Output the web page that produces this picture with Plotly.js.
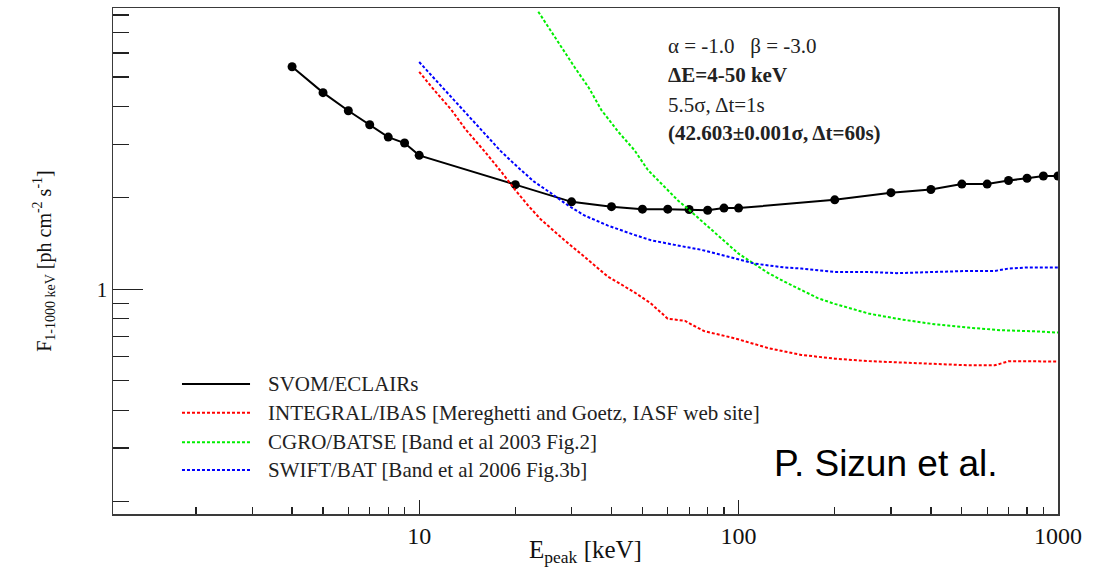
<!DOCTYPE html>
<html>
<head>
<meta charset="utf-8">
<script src="https://cdn.plot.ly/plotly-3.0.1.min.js"></script>
<style>
  html, body { margin: 0; padding: 0; background: #fff; }
  #plot { width: 1094px; height: 567px; }
</style>
</head>
<body>
<div id="plot"></div>
<script>
// Sensitivity (1-1000 keV photon flux) versus Epeak for several GRB instruments

const seriesNames = [
  "SVOM/ECLAIRs",
  "INTEGRAL/IBAS [Mereghetti and Goetz, IASF web site]",
  "CGRO/BATSE [Band et al 2003 Fig.2]",
  "SWIFT/BAT [Band et al 2006 Fig.3b]"
];

// SVOM/ECLAIRs
const eclairsE = [4, 5, 6, 7, 8, 9, 10, 20, 30, 40, 50, 60, 70, 80, 90, 100,
                  200, 300, 400, 500, 600, 700, 800, 900, 1000];
const eclairsF = [5.40, 4.44, 3.87, 3.48, 3.17, 3.03, 2.76, 2.21, 1.94, 1.87, 1.835, 1.835, 1.83, 1.82, 1.85, 1.85,
                  1.97, 2.08, 2.13, 2.22, 2.22, 2.28, 2.32, 2.36, 2.36];

// INTEGRAL/IBAS
const ibasE = [10, 11, 12.6, 14, 16, 18, 20, 22, 24, 28.5, 32.9, 39, 47, 53, 60, 68, 72, 78,
               97, 124, 157, 200, 255, 324, 411, 523, 634, 699, 848, 1000];
const ibasF = [5.2, 4.6, 3.9, 3.35, 2.85, 2.45, 2.12, 1.88, 1.70, 1.45, 1.28, 1.10, 0.98, 0.90, 0.80, 0.787, 0.761, 0.728,
               0.69, 0.64, 0.608, 0.591, 0.58, 0.575, 0.569, 0.562, 0.562, 0.579, 0.579, 0.578];

// CGRO/BATSE
const batseE = [23.6, 26, 28, 30.6, 34, 37.2, 42, 47.2, 52, 58.6, 64.6, 69.4, 75, 80, 86, 92.6, 100, 107,
                124, 139, 153, 177, 200, 226, 255, 324, 411, 523, 661, 848, 1000];
const batseF = [8.2, 7.0, 6.2, 5.40, 4.6, 3.89, 3.30, 2.87, 2.47, 2.17, 1.96, 1.84, 1.71, 1.61, 1.50, 1.40, 1.31, 1.25,
                1.13, 1.06, 1.01, 0.935, 0.895, 0.862, 0.832, 0.795, 0.767, 0.748, 0.733, 0.727, 0.72];

// SWIFT/BAT
const batE = [10, 12.6, 16, 18, 20.3, 22.9, 25.9, 29.2, 32.9, 39, 47.2, 53.2, 63, 76, 93, 112,
              139, 157, 200, 255, 313, 411, 523, 634, 699, 805, 1000];
const batF = [5.6, 4.30, 3.26, 2.85, 2.53, 2.26, 2.07, 1.89, 1.75, 1.62, 1.51, 1.45, 1.40, 1.35, 1.28, 1.215,
              1.18, 1.17, 1.14, 1.14, 1.13, 1.14, 1.149, 1.149, 1.17, 1.18, 1.18];

const xTickVals = [10, 100, 1000];
const xTickText = ["10", "100", "1000"];
const xMinorVals = [2, 3, 4, 5, 6, 7, 8, 9, 20, 30, 40, 50, 60, 70, 80, 90,
                    200, 300, 400, 500, 600, 700, 800, 900];
const yTickVals = [1];
const yTickText = ["1"];
const yMinorVals = [0.2, 0.3, 0.4, 0.5, 0.6, 0.7, 0.8, 0.9, 2, 3, 4, 5, 6, 7, 8];

const infoLines = [
  "α\u00A0=\u00A0-1.0\u00A0\u00A0\u00A0β\u00A0=\u00A0-3.0",
  "<b>ΔE=4-50 keV</b>",
  "5.5σ, Δt=1s",
  "<b>(42.603±0.001σ, Δt=60s)</b>"
];
const creditText = "P. Sizun et al.";

const serif = "Liberation Serif, Times New Roman, serif";
const dashStyle = "3px,2px";
const colors = ["#000000", "#ff0000", "#00ee00", "#0000ff"];

const traces = [
  { x: eclairsE, y: eclairsF, name: seriesNames[0], mode: "lines+markers",
    line: { color: colors[0], width: 2 },
    marker: { color: colors[0], size: 9, symbol: "circle" } },
  { x: ibasE, y: ibasF, name: seriesNames[1], mode: "lines",
    line: { color: colors[1], width: 2, dash: dashStyle } },
  { x: batseE, y: batseF, name: seriesNames[2], mode: "lines",
    line: { color: colors[2], width: 2, dash: dashStyle } },
  { x: batE, y: batF, name: seriesNames[3], mode: "lines",
    line: { color: colors[3], width: 2, dash: dashStyle } }
].map(t => Object.assign(t, { type: "scatter", showlegend: false, hoverinfo: "skip" }));

// Hand-built key in the lower-left corner of the frame
const legendRowsY = [0.257, 0.200, 0.142, 0.087];
const shapes = [];
const annotations = [];
seriesNames.forEach((name, i) => {
  shapes.push({
    type: "line", xref: "paper", yref: "paper",
    x0: 0.073, x1: 0.145, y0: legendRowsY[i], y1: legendRowsY[i],
    line: { color: colors[i], width: 2, dash: i === 0 ? "solid" : dashStyle }
  });
  annotations.push({
    xref: "paper", yref: "paper", x: 0.162, y: legendRowsY[i],
    xanchor: "left", yanchor: "middle", showarrow: false,
    text: name, font: { family: serif, size: 21, color: "#222" }
  });
});

const infoY = [0.925, 0.868, 0.808, 0.753];
infoLines.forEach((txt, i) => {
  annotations.push({
    xref: "paper", yref: "paper", x: 0.585, y: infoY[i],
    xanchor: "left", yanchor: "middle", showarrow: false,
    text: txt, font: { family: serif, size: 21, color: "#222" }
  });
});

annotations.push({
  xref: "paper", yref: "paper", x: 0.697, y: 0.10,
  xanchor: "left", yanchor: "middle", showarrow: false,
  text: creditText, font: { family: "Liberation Sans, Arial, sans-serif", size: 37, color: "#000" }
});

const layout = {
  width: 1094, height: 567,
  margin: { l: 113, r: 36, t: 8, b: 53 },
  paper_bgcolor: "#ffffff", plot_bgcolor: "#ffffff",
  showlegend: false,
  xaxis: {
    type: "log", range: [Math.log10(1.1), 3.0],
    showline: true, mirror: true, linecolor: "#3a3a3a", linewidth: 1.5,
    showgrid: false, zeroline: false,
    ticks: "inside", ticklen: 14, tickwidth: 1.2, tickcolor: "#222",
    tickmode: "array", tickvals: xTickVals, ticktext: xTickText,
    tickfont: { family: serif, size: 24, color: "#111" },
    minor: { tickmode: "array", tickvals: xMinorVals, ticks: "inside", ticklen: 7, tickwidth: 1.2, tickcolor: "#222", showgrid: false },
    title: { text: "E<sub>peak</sub> [keV]", font: { family: serif, size: 25, color: "#111" }, standoff: 2 }
  },
  yaxis: {
    type: "log", range: [Math.log10(0.182), 0.926],
    showline: true, mirror: true, linecolor: "#3a3a3a", linewidth: 1.5,
    showgrid: false, zeroline: false,
    ticks: "inside", ticklen: 30, tickwidth: 1.2, tickcolor: "#222",
    tickmode: "array", tickvals: yTickVals, ticktext: yTickText,
    tickfont: { family: serif, size: 21, color: "#111" },
    minor: { tickmode: "array", tickvals: yMinorVals, ticks: "inside", ticklen: 16, tickwidth: 1.2, tickcolor: "#222", showgrid: false },
    title: { text: "F<sub>1-1000 keV</sub> [ph cm<sup>-2</sup> s<sup>-1</sup>]", font: { family: serif, size: 20, color: "#111" }, standoff: 40 }
  },
  shapes: shapes,
  annotations: annotations
};

Plotly.newPlot("plot", traces, layout, { staticPlot: true, displayModeBar: false });
</script>
</body>
</html>
